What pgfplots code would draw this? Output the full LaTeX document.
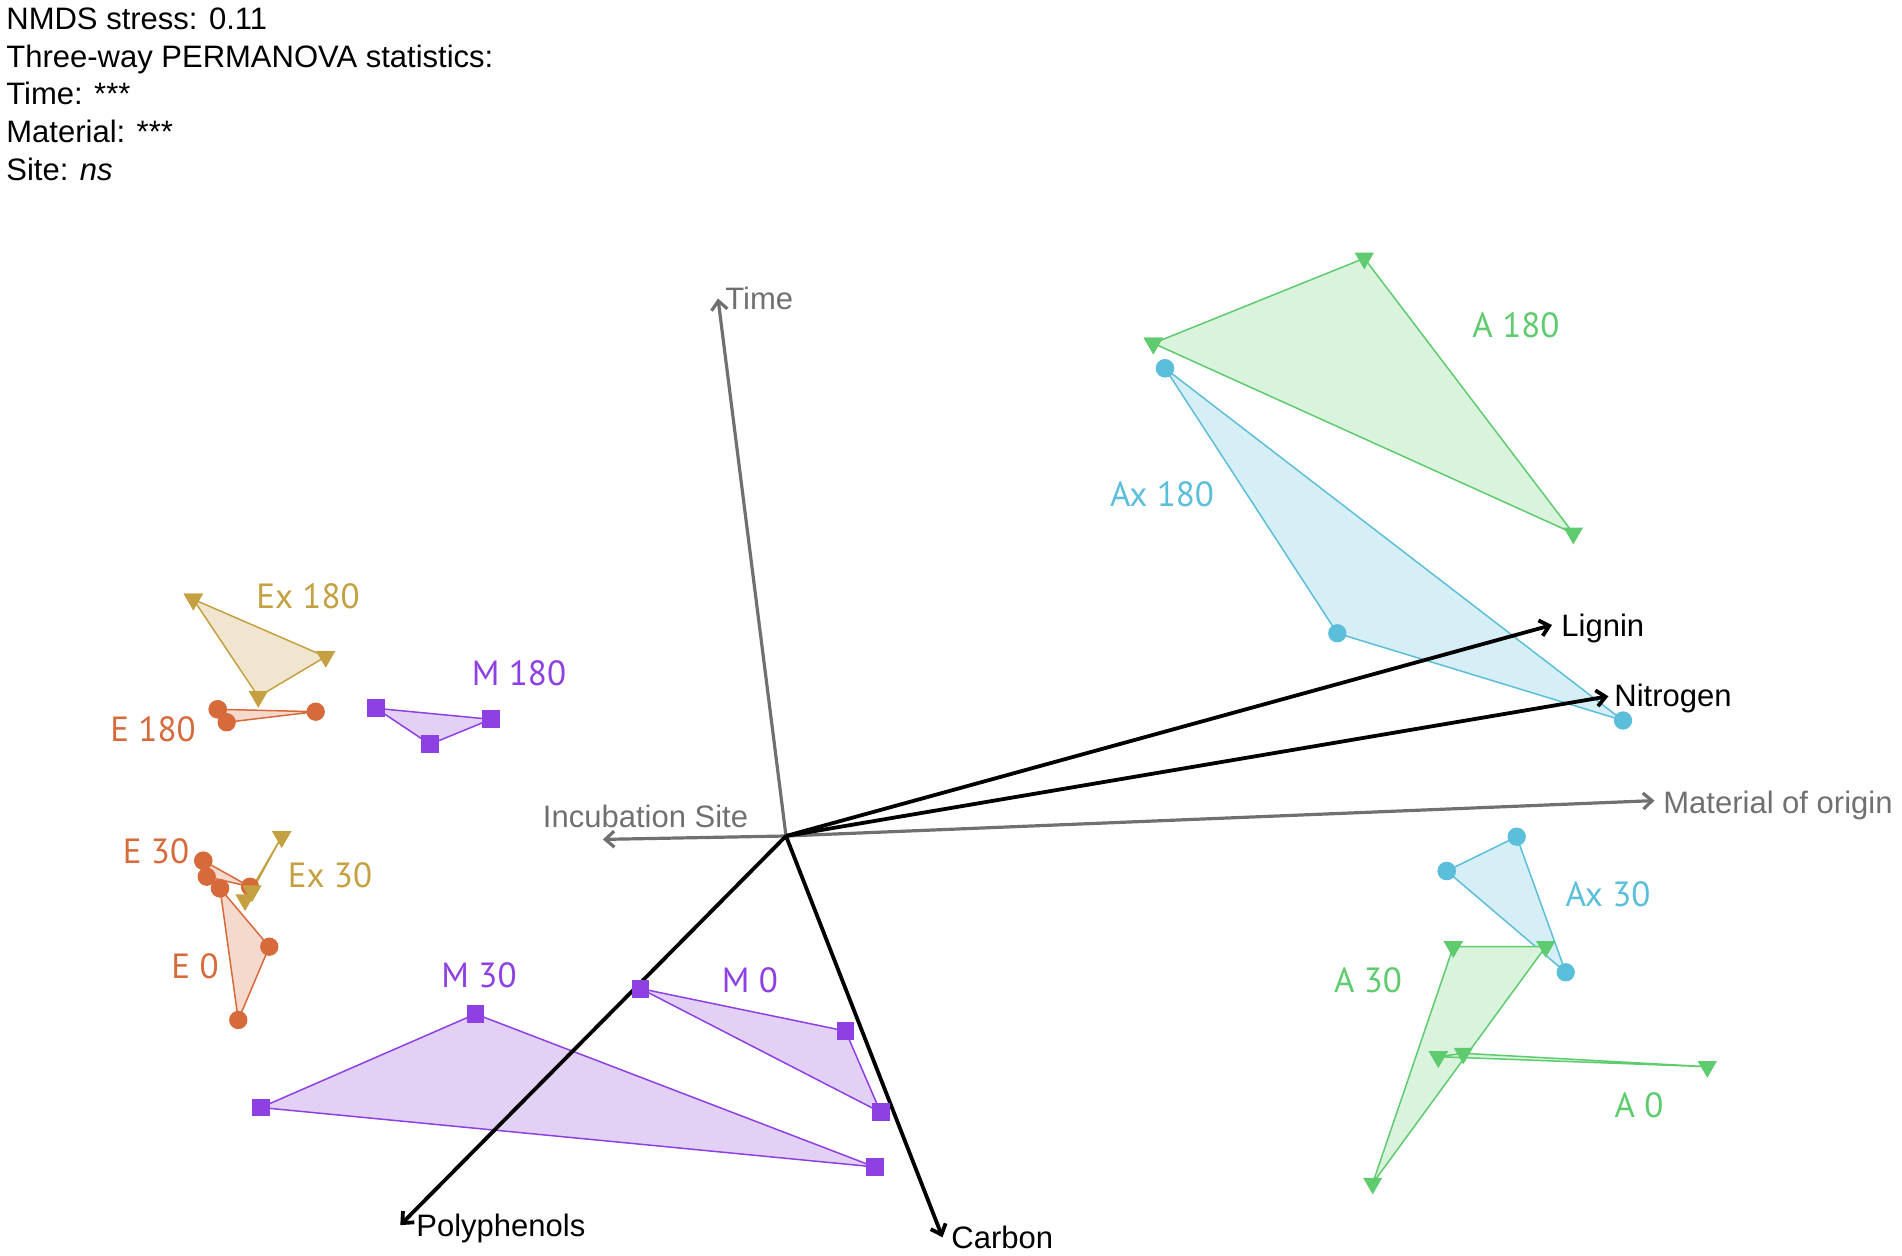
\documentclass[border=0pt]{standalone}
\usepackage{pgfplots}
\pgfplotsset{compat=1.18}
\usepackage{fontspec}
\setmainfont{Liberation Sans}
\newfontfamily\grpfont{PT Sans}
\usetikzlibrary{arrows.meta}
\definecolor{cE}{RGB}{214,106,58}
\definecolor{fE}{RGB}{245,217,204}
\definecolor{cEx}{RGB}{196,160,64}
\definecolor{fEx}{RGB}{240,230,207}
\definecolor{cM}{RGB}{143,64,226}
\definecolor{fM}{RGB}{226,208,245}
\definecolor{cAx}{RGB}{91,190,218}
\definecolor{fAx}{RGB}{214,238,246}
\definecolor{cA}{RGB}{94,204,110}
\definecolor{fA}{RGB}{217,243,221}
\definecolor{cG}{RGB}{112,112,112}
\begin{document}
\begin{tikzpicture}
\begin{axis}[
  hide axis, clip=false, scale only axis,
  width=951pt, height=627.5pt,
  xmin=0, xmax=1902, ymin=0, ymax=1255,
  grpE/.style={draw=cE, fill=fE, line width=0.75pt, mark=*, mark size=4.2pt, mark options={fill=cE, draw=cE}},
  grpEx/.style={draw=cEx, fill=fEx, line width=0.75pt, mark=triangle*, mark size=4.8pt, mark options={fill=cEx, draw=cEx, rotate=180}},
  grpM/.style={draw=cM, fill=fM, line width=0.75pt, mark=square*, mark size=4.1pt, mark options={fill=cM, draw=cM}},
  grpAx/.style={draw=cAx, fill=fAx, line width=0.75pt, mark=*, mark size=4.2pt, mark options={fill=cAx, draw=cAx}},
  grpA/.style={draw=cA, fill=fA, line width=0.75pt, mark=triangle*, mark size=4.8pt, mark options={fill=cA, draw=cA, rotate=180}},
  garr/.style={draw=cG, line width=1.6pt, -{Straight Barb[length=4.5pt,width=8pt]}, no marks},
  barr/.style={draw=black, line width=1.9pt, -{Straight Barb[length=4.5pt,width=8pt]}, no marks},
]
\path (axis cs:0,0) rectangle (axis cs:1902,1255);
% hulls
\addplot[grpEx] coordinates {(193.3,655.7) (325.7,598.3) (258.3,558.3) (193.3,655.7)};
\addplot[grpE]  coordinates {(217.7,545.7) (226.7,532.7) (315.7,543.3) (217.7,545.7)};
\addplot[grpM]  coordinates {(376,546.7) (491,535.7) (430,510.7) (376,546.7)};
\addplot[grpE]  coordinates {(220,366.7) (269.3,308.3) (238.3,235) (220,366.7)};
\addplot[grpE]  coordinates {(203.3,394.3) (250,368.3) (206.7,378.3) (203.3,394.3)};
\addplot[grpEx] coordinates {(281.7,418.3) (252,364) (245,355) (281.7,418.3)};
\addplot[grpM]  coordinates {(640.5,266.4) (845.5,224) (880.6,142.7) (640.5,266.4)};
\addplot[grpM]  coordinates {(475.5,241) (874.6,88.1) (260.8,147.5) (475.5,241)};
\addplot[grpA]  coordinates {(1153.3,911.7) (1364.3,996.7) (1573.3,721.7) (1153.3,911.7)};
\addplot[grpAx] coordinates {(1165,886.7) (1623,534.5) (1337.3,621.7) (1165,886.7)};
\addplot[grpAx] coordinates {(1446.7,384) (1516.7,418.3) (1565.7,282.7) (1446.7,384)};
\addplot[grpA]  coordinates {(1453.3,308.3) (1545.7,308.3) (1372.7,71.7) (1453.3,308.3)};
\addplot[grpA]  coordinates {(1438.3,198.3) (1707.3,188.3) (1463.3,201.7) (1438.3,198.3)};
% vectors
\addplot[garr] coordinates {(786,419) (718,956.5)};
\addplot[garr] coordinates {(786,419) (602.9,415.6)};
\addplot[garr] coordinates {(786,419) (1654.5,454.4)};
\addplot[barr] coordinates {(786,419) (1552,630)};
\addplot[barr] coordinates {(786,419) (1608.4,558.7)};
\addplot[barr] coordinates {(786,419) (400.3,29.9)};
\addplot[barr] coordinates {(786,419) (942.5,17.7)};
% vector labels
\begin{scope}[every node/.style={inner sep=0pt, font=\fontsize{15.5}{18.8}\selectfont}]
\node[anchor=base west, text=cG] at (axis cs:725,945) {Time};
\node[anchor=base, text=cG] at (axis cs:645.5,428) {Incubation Site};
\node[anchor=base west, text=cG] at (axis cs:1663,442) {Material of origin};
\node[anchor=base west] at (axis cs:1561,618) {Lignin};
\node[anchor=base west] at (axis cs:1614,548) {Nitrogen};
\node[anchor=base west] at (axis cs:416,19) {Polyphenols};
\node[anchor=base west] at (axis cs:951,7) {Carbon};
\node[anchor=base west] at (axis cs:6,1225.3) {NMDS stress: 0.11};
\node[anchor=base west] at (axis cs:6,1187.7) {Three-way PERMANOVA statistics:};
\node[anchor=base west] at (axis cs:6,1150.1) {Time: ***};
\node[anchor=base west] at (axis cs:6,1112.5) {Material: ***};
\node[anchor=base west] at (axis cs:6,1074.9) {Site: \textit{ns}};
\end{scope}
% group labels
\begin{scope}[every node/.style={inner sep=0pt, anchor=base, font=\grpfont\fontsize{17.5}{20}\selectfont}]
\node[text=cA]  at (axis cs:1516,917.3) {A 180};
\node[text=cAx] at (axis cs:1162,748.3) {Ax 180};
\node[text=cAx] at (axis cs:1608,348.3) {Ax 30};
\node[text=cA]  at (axis cs:1368,262.3) {A 30};
\node[text=cA]  at (axis cs:1639,137.3) {A 0};
\node[text=cM]  at (axis cs:750,262.3) {M 0};
\node[text=cM]  at (axis cs:479,267.3) {M 30};
\node[text=cM]  at (axis cs:519,569.3) {M 180};
\node[text=cE]  at (axis cs:153,513.3) {E 180};
\node[text=cEx] at (axis cs:308,646.3) {Ex 180};
\node[text=cE]  at (axis cs:156,391.3) {E 30};
\node[text=cEx] at (axis cs:330,367.3) {Ex 30};
\node[text=cE]  at (axis cs:195,276.3) {E 0};
\end{scope}
\end{axis}
\end{tikzpicture}
\end{document}
